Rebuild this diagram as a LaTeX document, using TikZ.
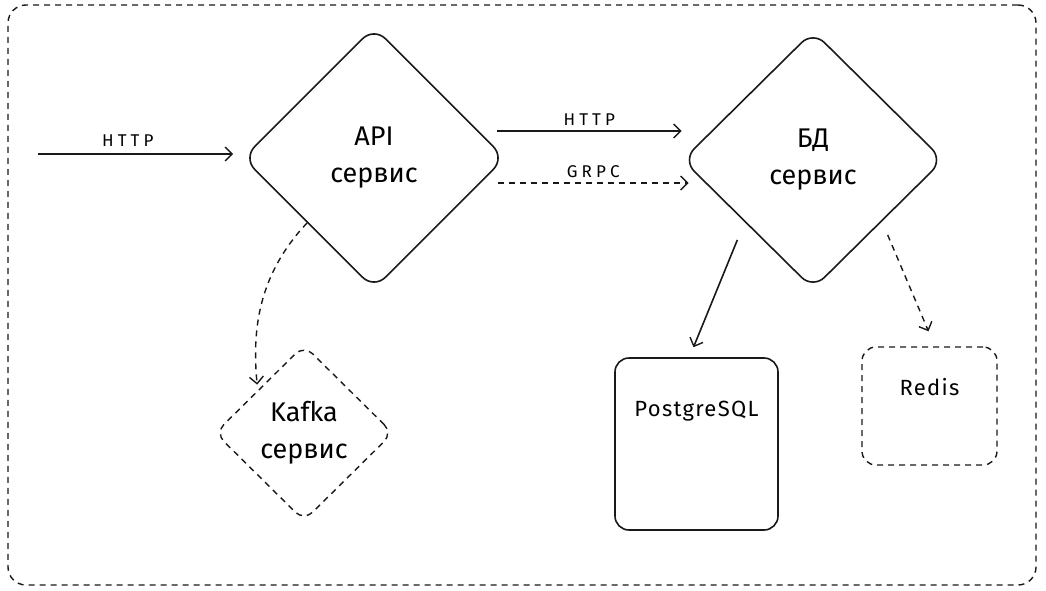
\documentclass[tikz,border=0pt]{standalone}
\usepackage{fontspec}
\setmainfont{Fira Sans}
\newfontfamily\lblfont[LetterSpace=24]{Fira Sans}
\newfontfamily\boxfont[LetterSpace=6]{Fira Sans}
\usetikzlibrary{shapes.geometric,arrows.meta,calc}
\begin{document}
\begin{tikzpicture}[x=1pt,y=-1pt,
  solidline/.style={line width=1.6pt, draw=black!90},
  dashline/.style={line width=1.4pt, draw=black!90, dash pattern=on 6pt off 5pt},
  arr/.style={-{Straight Barb[length=7pt,width=14pt,line width=1.4pt]}},
  dia/.style={diamond, rounded corners=16pt, inner sep=0pt, align=center,
    font=\fontsize{27}{37}\selectfont},
  box/.style={rectangle, rounded corners=14pt, inner sep=0pt},
  lbl/.style={font=\lblfont\fontsize{17}{19}\selectfont, inner sep=1pt},
  boxtxt/.style={font=\boxfont\fontsize{22}{26}\selectfont, inner sep=0pt}
]
\useasboundingbox (0,0) rectangle (1046,591);
% frame
\node[box, dashline, rounded corners=18pt, minimum width=1028pt, minimum height=580pt] (frame) at (522,295) {};
% diamonds
\node[dia, solidline, minimum width=262pt, minimum height=262pt] (api) at (374,158) {API\\сервис};
\node[dia, solidline, minimum width=261pt, minimum height=258pt] (bd) at (813,160) {БД\\сервис};
\node[dia, dashline, minimum width=178pt, minimum height=176pt, rounded corners=12pt] (kafka) at (304,433) {Kafka\\сервис};
% boxes
\node[box, solidline, minimum width=163pt, minimum height=172pt] (pg) at (696.5,444) {};
\node[boxtxt] (pgt) at ([yshift=-54pt]pg.north) {PostgreSQL};
\node[box, dashline, minimum width=135pt, minimum height=118pt] (redis) at (929.5,406) {};
\node[boxtxt] (redist) at ([yshift=-41pt]redis.north) {Redis};
% incoming HTTP
\coordinate (in) at (38,154);
\draw[solidline, arr] (in) -- ([xshift=-9pt,yshift=4pt]api.west)
  node[lbl, pos=0.46, above=6pt] (l1) {HTTP};
% API -> BD HTTP
\draw[solidline, arr] ([xshift=-9pt,yshift=27pt]api.east) -- ([xshift=0pt,yshift=29pt]bd.west)
  node[lbl, midway, above=4pt] (l2) {HTTP};
% API -> BD GRPC
\draw[dashline, arr] ([xshift=-8pt,yshift=-25pt]api.east) -- ([xshift=7pt,yshift=-23pt]bd.west)
  node[lbl, midway, above=4pt] (l3) {GRPC};
% API -> Kafka
\draw[dashline, arr] ([xshift=-1pt,yshift=1pt]api.south west) .. controls (258,275) and (252,330) .. ([xshift=-2pt,yshift=4pt]kafka.north west);
% BD -> PostgreSQL
\draw[solidline, arr] ([xshift=-10pt,yshift=-15pt]bd.south west) -- ([xshift=-3pt,yshift=10pt]pg.north);
% BD -> Redis
\draw[dashline, arr] ([xshift=9pt,yshift=-10pt]bd.south east) -- ([xshift=-1pt,yshift=15pt]redis.north);
\end{tikzpicture}
\end{document}
